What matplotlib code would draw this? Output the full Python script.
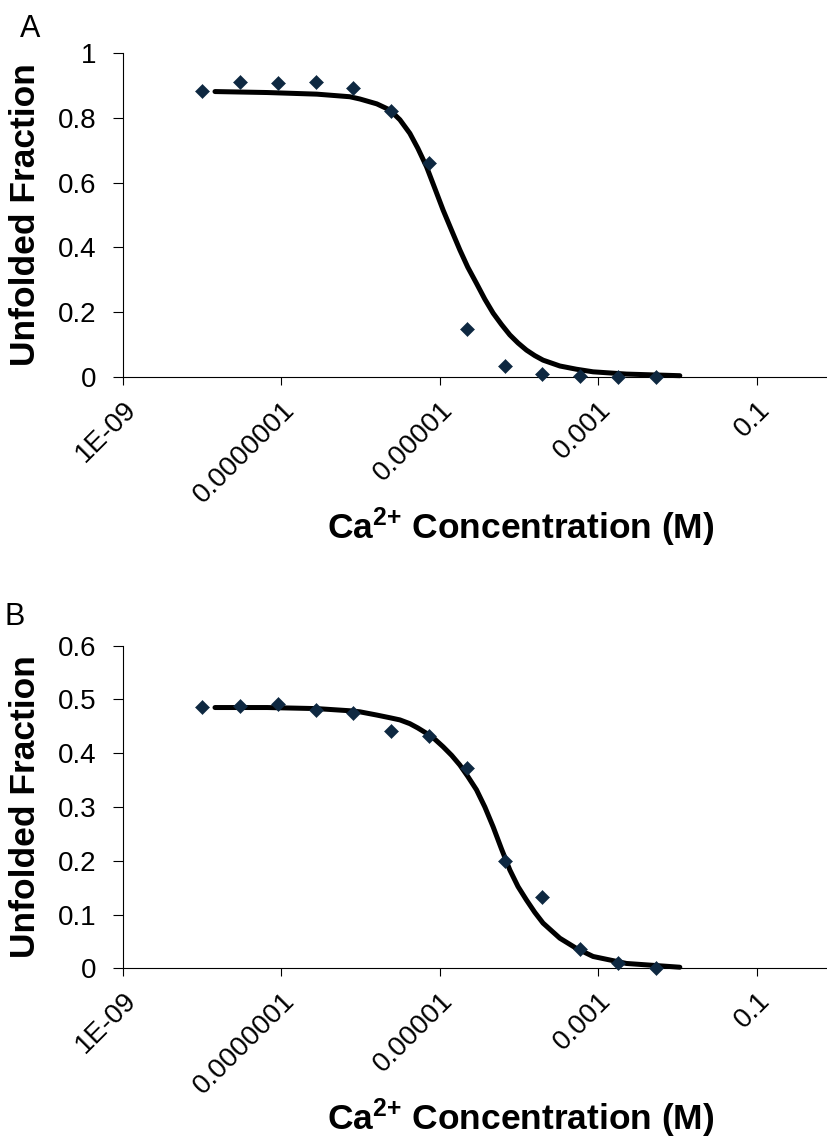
import matplotlib

matplotlib.use("Agg")
import matplotlib.pyplot as plt  # noqa: E402

plt.rcParams["font.family"] = ["Liberation Sans", "DejaVu Sans"]
plt.rcParams["mathtext.default"] = "regular"

# Ca2+ concentrations of the measured points (M)
conc = [1.0e-8, 3.0e-8, 9.0e-8, 2.7e-7, 8.1e-7, 2.43e-6, 7.29e-6,
        2.19e-5, 6.56e-5, 1.97e-4, 5.9e-4, 1.77e-3, 5.31e-3]
frac_a = [0.883, 0.910, 0.907, 0.910, 0.892, 0.821, 0.662,
          0.149, 0.035, 0.010, 0.002, 0.001, 0.0]
frac_b = [0.486, 0.487, 0.4915, 0.481, 0.474, 0.441, 0.432,
          0.373, 0.199, 0.132, 0.036, 0.0105, 0.0]

# fitted curves
fit_conc = [1.45e-8, 6.6e-8, 2.8e-7, 7.3e-7, 9.8e-7, 1.6e-6, 2.34e-6, 3.13e-6,
            4.18e-6, 5.27e-6, 6.79e-6, 8.65e-6, 1.10e-5, 1.41e-5, 1.79e-5,
            2.25e-5, 2.90e-5, 3.70e-5, 4.71e-5, 6.0e-5, 7.64e-5, 9.7e-5,
            1.24e-4, 1.58e-4, 2.01e-4, 3.27e-4, 5.3e-4, 8.6e-4, 2.27e-3, 1.07e-2]
fit_a = [0.881, 0.878, 0.873, 0.865, 0.858, 0.843, 0.824, 0.794,
         0.752, 0.706, 0.649, 0.582, 0.515, 0.452, 0.392,
         0.339, 0.289, 0.240, 0.197, 0.162, 0.130, 0.105,
         0.083, 0.066, 0.052, 0.034, 0.024, 0.016, 0.009, 0.004]
fit_b = [0.485, 0.485, 0.483, 0.479, 0.477, 0.471, 0.466, 0.462,
         0.455, 0.447, 0.437, 0.426, 0.412, 0.396, 0.378,
         0.357, 0.332, 0.300, 0.263, 0.222, 0.183, 0.152,
         0.127, 0.104, 0.084, 0.056, 0.037, 0.022, 0.009, 0.002]

x_ticks = [1e-9, 1e-7, 1e-5, 1e-3, 1e-1]
x_ticklabels = ["1E-09", "0.0000001", "0.00001", "0.001", "0.1"]
y_ticks_a = [0, 0.2, 0.4, 0.6, 0.8, 1.0]
y_ticklabels_a = ["0", "0.2", "0.4", "0.6", "0.8", "1"]
y_ticks_b = [0, 0.1, 0.2, 0.3, 0.4, 0.5, 0.6]
y_ticklabels_b = ["0", "0.1", "0.2", "0.3", "0.4", "0.5", "0.6"]

W, H = 828, 1140
fig = plt.figure(figsize=(W / 100, H / 100), dpi=100)


def panel(rect, fit_y, pts_y, yticks, yticklabels, ymax):
    ax = fig.add_axes(rect)
    ax.plot(fit_conc, fit_y, color="black", lw=3.6, solid_capstyle="round",
            solid_joinstyle="round", clip_on=False, zorder=2)
    ax.plot(conc, pts_y, "D", color="#0e2841", ms=7.4, mew=0.4,
            clip_on=False, zorder=3)
    ax.set_xscale("log")
    ax.set_xlim(1e-9, 10 ** -0.1)
    ax.set_ylim(0, ymax)
    ax.set_xticks(x_ticks)
    ax.set_xticklabels(x_ticklabels, rotation=45, ha="right",
                       rotation_mode="anchor")
    ax.xaxis.set_minor_locator(matplotlib.ticker.NullLocator())
    ax.set_yticks(yticks)
    ax.set_yticklabels(yticklabels)
    ax.tick_params(axis="both", labelsize=20, width=0.8, direction="out")
    ax.tick_params(axis="x", length=6, pad=8)
    ax.tick_params(axis="y", length=7, pad=12)
    for s in ["top", "right"]:
        ax.spines[s].set_visible(False)
    for s in ["left", "bottom"]:
        ax.spines[s].set_linewidth(0.8)
    return ax


panel([123 / W, 1 - 377 / H, 1 - 123 / W, 324 / H], fit_a, frac_a,
      y_ticks_a, y_ticklabels_a, 1.0)
panel([123 / W, 1 - 968.3 / H, 1 - 123 / W, 322.6 / H], fit_b, frac_b,
      y_ticks_b, y_ticklabels_b, 0.6)

lab = dict(fontsize=25.5, fontweight="bold")
fig.text(26 / W, 1 - 215 / H, "Unfolded Fraction", rotation=90,
         ha="center", va="center", **lab)
fig.text(26 / W, 1 - 807 / H, "Unfolded Fraction", rotation=90,
         ha="center", va="center", **lab)
xlabel = "Ca$^{2{+}}$ Concentration (M)"
fig.text(521 / W, 1 - 539 / H, xlabel, ha="center", va="baseline", **lab)
fig.text(521 / W, 1 - 1130 / H, xlabel, ha="center", va="baseline", **lab)

fig.text(20 / W, 1 - 37 / H, "A", fontsize=22, va="baseline")
fig.text(5 / W, 1 - 625 / H, "B", fontsize=22, va="baseline")

fig.savefig("out.png", dpi=100)
